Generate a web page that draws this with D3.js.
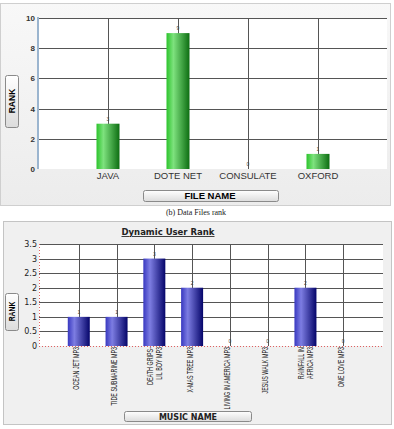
<!DOCTYPE html>
<html>
<head>
<meta charset="utf-8">
<script src="https://cdn.jsdelivr.net/npm/d3@7"></script>
<style>
  body { margin: 0; background: #fff; }
  svg { display: block; }
</style>
</head>
<body>
<div id="chart"></div>
<script>
// chart 1: data files rank
var files = ['JAVA', 'DOTE NET', 'CONSULATE', 'OXFORD'];
var fileRank = [3, 9, 0, 1];
var fileTicks = [0, 2, 4, 6, 8, 10];

// chart 2: dynamic user rank
var songs = [['OCEAN JET MP3'], ['TIDE SUBMARINE MP3'], ['DEATH GRIPS-', 'LIL BOY MP3'],
             ['X-MAS TREE MP3'], ['LIVING IN AMERICA MP3'], ['JESUS WALK MP3'],
             ['RAINFALL IN', 'AFRICA MP3'], ['ONE LOVE MP3']];
var songRank = [1, 1, 3, 2, 0, 0, 2, 0];
var songTicks = [0, 0.5, 1, 1.5, 2, 2.5, 3, 3.5];

var svg = d3.select('#chart').append('svg')
    .attr('width', 394)
    .attr('height', 429);

var defs = svg.append('defs');

function barGradient(id, c0, c1, c2) {
  var g = defs.append('linearGradient').attr('id', id)
      .attr('x1', '0%').attr('x2', '100%').attr('y1', '0%').attr('y2', '0%');
  g.append('stop').attr('offset', '0%').attr('stop-color', c0);
  g.append('stop').attr('offset', '30%').attr('stop-color', c1);
  g.append('stop').attr('offset', '100%').attr('stop-color', c2);
}
barGradient('green', '#2cc42c', '#7ee27e', '#0d6e12');
barGradient('blue', '#3838c0', '#7d7de2', '#05056a');

var btn = defs.append('linearGradient').attr('id', 'btn')
    .attr('x1', '0%').attr('x2', '0%').attr('y1', '0%').attr('y2', '100%');
btn.append('stop').attr('offset', '0%').attr('stop-color', '#ffffff');
btn.append('stop').attr('offset', '100%').attr('stop-color', '#dcdcdc');

var panelG = defs.append('linearGradient').attr('id', 'panel')
    .attr('x1', '0%').attr('x2', '0%').attr('y1', '0%').attr('y2', '100%');
panelG.append('stop').attr('offset', '0%').attr('stop-color', '#f8f8f8');
panelG.append('stop').attr('offset', '100%').attr('stop-color', '#ececec');

function button(g, x, y, w, h) {
  g.append('rect')
      .attr('x', x + 0.5).attr('y', y + 0.5)
      .attr('width', w).attr('height', h)
      .attr('rx', 2)
      .attr('fill', 'url(#btn)')
      .attr('stroke', '#8a8a8a');
}

// ---------- chart 1 ----------
var top1 = svg.append('g');
top1.append('rect')
    .attr('x', 0.5).attr('y', 3.5).attr('width', 390).attr('height', 202)
    .attr('fill', 'url(#panel)').attr('stroke', '#cfcfcf');

var x1 = d3.scalePoint().domain(files).range([38, 388]).padding(1);
var y1 = d3.scaleLinear().domain([0, 10]).range([169, 18]);

top1.append('rect')
    .attr('x', 38).attr('y', 18).attr('width', 349).attr('height', 151)
    .attr('fill', '#fff');

top1.selectAll('.hgrid').data(fileTicks.slice(1)).enter()
  .append('line')
    .attr('x1', 38).attr('x2', 387)
    .attr('y1', function(d) { return Math.round(y1(d)) + 0.5; })
    .attr('y2', function(d) { return Math.round(y1(d)) + 0.5; })
    .attr('stroke', '#555').attr('stroke-width', 1);

top1.selectAll('.vgrid').data(files).enter()
  .append('line')
    .attr('x1', function(d) { return Math.round(x1(d)) + 0.5; })
    .attr('x2', function(d) { return Math.round(x1(d)) + 0.5; })
    .attr('y1', 18).attr('y2', 169)
    .attr('stroke', '#555');

top1.selectAll('.bar').data(fileRank).enter()
  .append('rect')
    .attr('x', function(d, i) { return x1(files[i]) - 11.5; })
    .attr('y', function(d) { return y1(d); })
    .attr('width', 23)
    .attr('height', function(d) { return y1(0) - y1(d); })
    .attr('fill', 'url(#green)');

top1.selectAll('.val').data(fileRank).enter()
  .append('text')
    .attr('x', function(d, i) { return x1(files[i]); })
    .attr('y', function(d) { return y1(d) - 3; })
    .attr('text-anchor', 'middle')
    .attr('font-family', 'Liberation Sans, Arial, sans-serif')
    .attr('font-size', 5)
    .attr('fill', '#444')
    .text(function(d) { return d; });

// left axis line
top1.append('line')
    .attr('x1', 38).attr('x2', 38).attr('y1', 17).attr('y2', 169)
    .attr('stroke', '#9bb5cf').attr('stroke-width', 2);

var ax1 = d3.axisLeft(y1).tickValues(fileTicks).tickSize(0).tickPadding(3);
top1.append('g')
    .attr('transform', 'translate(38,0)')
    .call(ax1)
    .call(function(g) { g.select('.domain').remove(); })
    .selectAll('text')
    .attr('font-family', 'Liberation Sans, Arial, sans-serif')
    .attr('font-size', 8)
    .attr('font-weight', 'bold')
    .attr('fill', '#333');

top1.selectAll('.xlab').data(files).enter()
  .append('text')
    .attr('x', function(d) { return x1(d); })
    .attr('y', 179)
    .attr('text-anchor', 'middle')
    .attr('font-family', 'Liberation Sans, Arial, sans-serif')
    .attr('font-size', 9.5)
    .attr('fill', '#333')
    .text(function(d) { return d; });

button(top1, 143, 190, 135, 11);
top1.append('text')
    .attr('x', 210).attr('y', 199)
    .attr('text-anchor', 'middle')
    .attr('font-family', 'Liberation Sans, Arial, sans-serif')
    .attr('font-size', 9.5).attr('font-weight', 'bold')
    .text('FILE NAME');

button(top1, 5, 75, 13, 52);
top1.append('text')
    .attr('transform', 'translate(15,101) rotate(-90)')
    .attr('text-anchor', 'middle')
    .attr('font-family', 'Liberation Sans, Arial, sans-serif')
    .attr('font-size', 8.5).attr('font-weight', 'bold')
    .text('RANK');

svg.append('text')
    .attr('x', 196).attr('y', 214.5)
    .attr('text-anchor', 'middle')
    .attr('font-family', 'Liberation Serif, Times New Roman, serif')
    .attr('font-size', 8)
    .attr('fill', '#222')
    .text('(b) Data Files rank');

// ---------- chart 2 ----------
var bot = svg.append('g');
bot.append('rect')
    .attr('x', 3.5).attr('y', 221.5).attr('width', 388).attr('height', 203)
    .attr('fill', '#f0f0f0').attr('stroke', '#c4c4c4');

var x2 = d3.scalePoint().domain(d3.range(songs.length)).range([41, 381]).padding(1);
var y2 = d3.scaleLinear().domain([0, 3.5]).range([346, 244]);

bot.append('rect')
    .attr('x', 39).attr('y', 244).attr('width', 344).attr('height', 102)
    .attr('fill', '#fff');

bot.append('text')
    .attr('x', 168).attr('y', 235)
    .attr('text-anchor', 'middle')
    .attr('font-family', 'DejaVu Sans, Verdana, sans-serif')
    .attr('font-size', 8.5).attr('font-weight', 'bold')
    .attr('text-decoration', 'underline')
    .attr('fill', '#222')
    .text('Dynamic User Rank');

bot.selectAll('.hgrid').data(songTicks.slice(1)).enter()
  .append('line')
    .attr('x1', 39).attr('x2', 383)
    .attr('y1', function(d) { return Math.round(y2(d)) + 0.5; })
    .attr('y2', function(d) { return Math.round(y2(d)) + 0.5; })
    .attr('stroke', '#555');

bot.selectAll('.vgrid').data(songs).enter()
  .append('line')
    .attr('x1', function(d, i) { return Math.round(x2(i)) + 0.5; })
    .attr('x2', function(d, i) { return Math.round(x2(i)) + 0.5; })
    .attr('y1', 244).attr('y2', 346)
    .attr('stroke', '#555');

bot.selectAll('.bar').data(songRank).enter()
  .append('rect')
    .attr('x', function(d, i) { return x2(i) - 11; })
    .attr('y', function(d) { return y2(d); })
    .attr('width', 22)
    .attr('height', function(d) { return y2(0) - y2(d); })
    .attr('fill', 'url(#blue)');

bot.selectAll('.val').data(songRank).enter()
  .append('text')
    .attr('x', function(d, i) { return x2(i); })
    .attr('y', function(d) { return y2(d) - 3; })
    .attr('text-anchor', 'middle')
    .attr('font-family', 'Liberation Sans, Arial, sans-serif')
    .attr('font-size', 5)
    .attr('fill', '#444')
    .text(function(d) { return d; });

// dotted red axis lines
bot.append('line')
    .attr('x1', 39).attr('x2', 383).attr('y1', 346.5).attr('y2', 346.5)
    .attr('stroke', '#e06060').attr('stroke-dasharray', '1,2');
bot.append('line')
    .attr('x1', 39.5).attr('x2', 39.5).attr('y1', 244).attr('y2', 346)
    .attr('stroke', '#e06060').attr('stroke-dasharray', '1,2');

var ax2 = d3.axisLeft(y2).tickValues(songTicks).tickSize(0).tickPadding(2)
    .tickFormat(function(d) { return d; });
bot.append('g')
    .attr('transform', 'translate(39,0)')
    .call(ax2)
    .call(function(g) { g.select('.domain').remove(); })
    .selectAll('text')
    .attr('font-family', 'DejaVu Sans, Verdana, sans-serif')
    .attr('font-size', 8)
    .attr('fill', '#222');

// rotated, condensed category labels (one text per line)
songs.forEach(function(lines, i) {
  lines.forEach(function(s, j) {
    var off = lines.length > 1 ? (j === 0 ? -1 : 7.5) : 0.5;
    bot.append('text')
        .attr('transform', 'translate(' + (x2(i) + off) + ',347) rotate(-90) scale(0.6,1)')
        .attr('text-anchor', 'end')
        .attr('font-family', 'Liberation Sans, Arial, sans-serif')
        .attr('font-size', 9)
        .attr('fill', '#222')
        .text(s);
  });
});

button(bot, 124, 411, 127, 10);
bot.append('text')
    .attr('x', 188).attr('y', 420)
    .attr('text-anchor', 'middle')
    .attr('font-family', 'DejaVu Sans, Verdana, sans-serif')
    .attr('font-size', 8).attr('font-weight', 'bold')
    .attr('fill', '#222')
    .text('MUSIC NAME');

button(bot, 5, 293, 13, 37);
bot.append('text')
    .attr('transform', 'translate(15,311.5) rotate(-90) scale(0.8,1)')
    .attr('text-anchor', 'middle')
    .attr('font-family', 'Liberation Sans, Arial, sans-serif')
    .attr('font-size', 8.5).attr('font-weight', 'bold')
    .text('RANK');
</script>
</body>
</html>
